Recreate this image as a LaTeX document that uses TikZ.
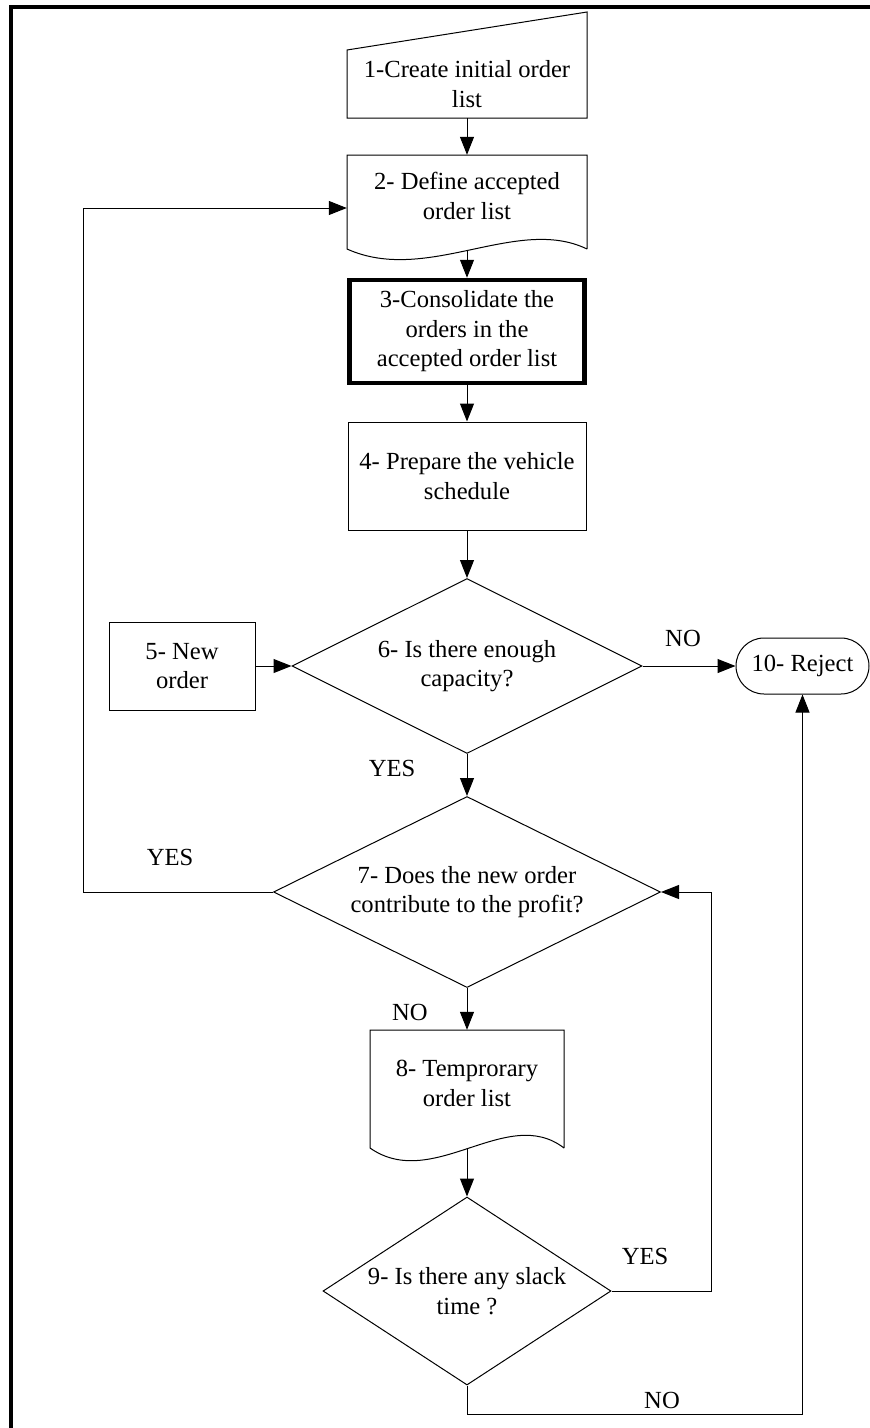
\documentclass[tikz,border=0pt]{standalone}
\usepackage{fontspec}
\setmainfont{Liberation Serif}
\usetikzlibrary{arrows.meta,shapes.geometric,shapes.misc}
\begin{document}
\begin{tikzpicture}[x=1pt,y=-1pt,
  every node/.style={font=\fontsize{24.6}{29.5}\selectfont, inner sep=0pt},
  txt/.style={align=center},
  ln/.style={line width=1pt},
  box/.style={draw, ln, rectangle, align=center},
  dia/.style={draw, ln, diamond, inner sep=0pt},
  arr/.style={line width=1pt, -{Triangle[length=18pt,width=14pt]}}
]
\useasboundingbox (0,0) rectangle (870,1428);
% frame
\draw[line width=4pt] (11,1428) -- (11,7) -- (870,7);

% 1 manual input
\node[txt, minimum width=240pt, minimum height=68pt] (n1) at (467,84) {1-Create initial order\\list};
\draw[ln] (347,50) -- (587,12) -- (587,118) -- (347,118) -- cycle;

% 2 document
\node[txt, minimum width=240pt, minimum height=82pt] (n2) at (467,196) {2- Define accepted\\order list};
\draw[ln] (587,249) -- (587,155) -- (347,155) -- (347,249) .. controls (427,285) and (517,215) .. (587,249);
\coordinate (n2b) at (467,250);

% 3 thick box
\node[box, line width=4.5pt, minimum width=235pt, minimum height=103pt] (n3) at (467,331.5) {3-Consolidate the\\orders in the\\accepted order list};

% 4
\node[box, minimum width=238pt, minimum height=108pt] (n4) at (467,476) {4- Prepare the vehicle\\schedule};

% 6 diamond
\node[dia, minimum width=350pt, minimum height=175pt, label={[txt]center:{6- Is there enough\\capacity?}}] (d6) at (467,666) {};

% 5
\node[box, minimum width=146pt, minimum height=88pt] (n5) at (182,666) {5- New\\order};

% 10
\node[draw, ln, rounded rectangle, minimum width=133pt, minimum height=56pt] (n10) at (802.5,666) {10- Reject};

% 7 diamond
\node[dia, minimum width=387pt, minimum height=191pt, label={[txt]center:{7- Does the new order\\contribute to the profit?}}] (d7) at (467,892) {};

% 8 document
\node[txt, minimum width=194pt, minimum height=107pt] (n8) at (467,1083.5) {8- Temprorary\\order list};
\draw[ln] (564,1148) -- (564,1030) -- (370,1030) -- (370,1148) .. controls (433,1192) and (507,1104) .. (564,1148);
\coordinate (n8b) at (467,1149);

% 9 diamond
\node[dia, minimum width=288pt, minimum height=188pt, label={[txt]center:{9- Is there any slack\\time ?}}] (d9) at (467,1291) {};

% helper coordinates
\coordinate (lx) at (83,892);
\coordinate (rx) at (711,1291);
\coordinate (bx) at (467,1414);

% connectors
\draw[arr] (n1.south) -- (n2.north);
\draw[arr] (n2b) -- (n3.north);
\draw[arr] (n3.south) -- (n4.north);
\draw[arr] (n4.south) -- (d6.north);
\draw[arr] (n5.east) -- (d6.west);
\draw[arr] (d6.east) -- (n10.west);
\draw[arr] (d6.south) -- (d7.north);
\draw[arr] (d7.west) -- (lx) |- ([yshift=-12pt]n2.west);
\draw[arr] (d7.south) -- (n8.north);
\draw[arr] (n8b) -- (d9.north);
\draw[arr] (d9.east) -- (rx) |- (d7.east);
\draw[arr] (d9.south) -- (bx) -| (n10.south);

% labels
\node (l1) at (683,638) {NO};
\node (l2) at (392,768) {YES};
\node (l3) at (170,857) {YES};
\node (l4) at (410,1012) {NO};
\node (l5) at (645,1256) {YES};
\node (l6) at (662,1400) {NO};
\end{tikzpicture}
\end{document}
